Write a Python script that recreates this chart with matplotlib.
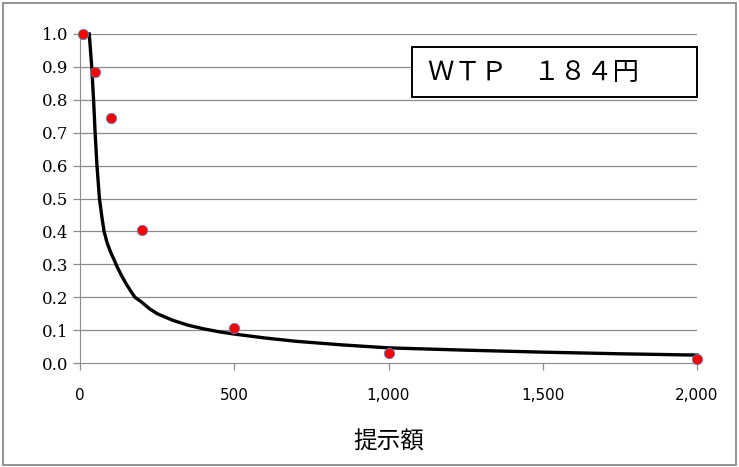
import matplotlib.pyplot as plt
from matplotlib.patches import Rectangle
from matplotlib.ticker import FuncFormatter

# observed points
bid = [10, 50, 100, 200, 500, 1000, 2000]
share = [1.0, 0.886, 0.745, 0.405, 0.107, 0.03, 0.012]

# fitted curve
curve_x = [30, 34, 38, 44, 49, 55, 63, 70, 78, 88, 100, 110, 119, 135, 150, 165, 178, 200,
           225, 250, 300, 350, 400, 450, 500, 600, 700, 850, 1000, 1250, 1500, 1750, 2000]
curve_y = [1.0, 0.95, 0.9, 0.8, 0.7, 0.6, 0.5, 0.45, 0.4, 0.365, 0.335, 0.315, 0.295, 0.265,
           0.24, 0.218, 0.2, 0.185, 0.165, 0.15, 0.13, 0.115, 0.104, 0.095, 0.088, 0.076,
           0.066, 0.055, 0.046, 0.039, 0.033, 0.028, 0.024]

x_ticks = [0, 500, 1000, 1500, 2000]
y_ticks = [i / 10 for i in range(11)]
box_text = "ＷＴＰ　１８４円"
x_title = "提示額"

fig = plt.figure(figsize=(7.39, 4.67), dpi=100)
fig.patches.append(Rectangle((0.004, 0.004), 0.992, 0.99, transform=fig.transFigure,
                             fill=False, edgecolor="#808080", linewidth=1.2))

ax = fig.add_axes([80 / 739, 104 / 467, 617 / 739, 329 / 467])
ax.set_xlim(0, 2000)
ax.set_ylim(0, 1.0)

for t in y_ticks[1:]:
    ax.axhline(t, color="#8c8c8c", linewidth=0.9, zorder=0)

ax.plot(curve_x, curve_y, color="black", linewidth=2.4, zorder=2, clip_on=False)
ax.scatter(bid, share, s=55, color="#ff0000", edgecolors="#5b7fc0", linewidths=0.6,
           zorder=3, clip_on=False)

for s in ["top", "right"]:
    ax.spines[s].set_visible(False)
for s in ["left", "bottom"]:
    ax.spines[s].set_color("#8c8c8c")
ax.tick_params(colors="#8c8c8c", length=5, width=0.9)

ax.set_yticks(y_ticks)
ax.set_yticklabels(["%.1f" % v for v in y_ticks])
for lab in ax.get_yticklabels():
    lab.set_fontfamily("DejaVu Serif")
    lab.set_fontsize(12)
    lab.set_color("black")
ax.set_xticks(x_ticks)
ax.xaxis.set_major_formatter(FuncFormatter(lambda v, p: "{:,}".format(int(v))))
for lab in ax.get_xticklabels():
    lab.set_fontfamily(["Liberation Sans Narrow", "DejaVu Sans"])
    lab.set_fontsize(11)
    lab.set_color("black")
ax.tick_params(axis="x", pad=13)

ax.set_xlabel(x_title, family=["Noto Sans CJK JP", "DejaVu Sans"], fontsize=17, labelpad=20)

# WTP box
fig.patches.append(Rectangle((412 / 739, 370 / 467), 285 / 739, 50 / 467, transform=fig.transFigure,
                             facecolor="white", edgecolor="black", linewidth=1.4, zorder=5))
fig.text(428 / 739, 395 / 467, box_text, family=["Noto Sans CJK JP", "DejaVu Sans"], fontsize=19,
         va="center", ha="left", zorder=6)

fig.savefig("out.png", dpi=100)
